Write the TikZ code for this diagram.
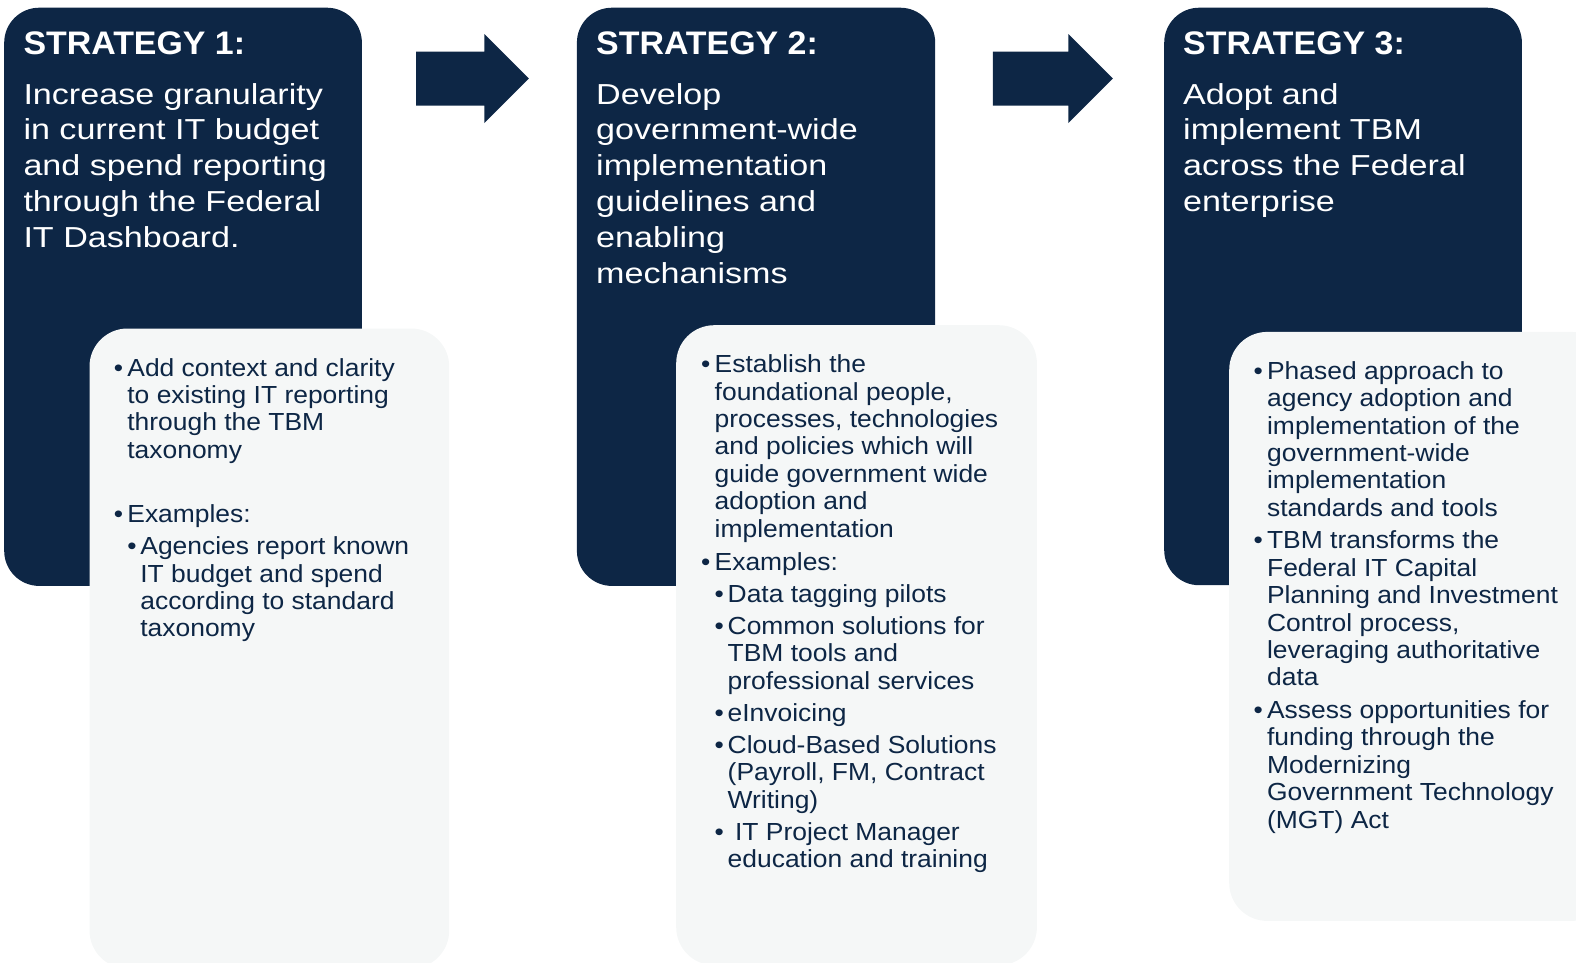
\documentclass[tikz,border=0pt]{standalone}
\usepackage{fontspec}
\setmainfont{Liberation Sans}
\newfontfamily\headfont{Liberation Sans}[FakeStretch=1.04]
\newfontfamily\bodyfont{Liberation Sans}[FakeStretch=1.18]
\newfontfamily\listfont{Liberation Sans}[FakeStretch=1.07]
\usetikzlibrary{shapes.arrows}

\definecolor{navy}{RGB}{13,38,69}
\definecolor{paper}{RGB}{245,247,247}

% bullets of the lists
\newcommand{\lvlone}{\makebox[13.5pt][l]{\textbullet}}
\newcommand{\lvlonec}{\hspace*{13.5pt}}
\newcommand{\lvltwo}{\hspace*{13.5pt}\makebox[13pt][l]{\textbullet}}
\newcommand{\lvltwoc}{\hspace*{26.5pt}}
\newcommand{\bodyset}{\bodyfont\fontsize{28.9}{35.8}\selectfont\raggedright}
\newcommand{\listset}{\listfont\fontsize{24.7}{27.4}\selectfont\raggedright}

\begin{document}
\begin{tikzpicture}[
        x=1pt, y=-1pt,
        darkbox/.style={rectangle, fill=navy, rounded corners=35pt, anchor=north west, inner sep=0pt},
        lightbox/.style={rectangle, fill=paper, rounded corners=38pt, anchor=north west, inner sep=0pt},
        heading/.style={anchor=base west, inner sep=0pt, text=white, font=\headfont\bfseries\fontsize{32.6}{36}\selectfont},
        bodytext/.style={anchor=base west, inner sep=0pt, text=white},
        listtext/.style={anchor=base west, inner sep=0pt, text=navy},
        flowarrow/.style={single arrow, fill=navy, inner xsep=0pt, inner ysep=26.8pt, text height=0pt, text depth=0pt,
            minimum height=112.7pt, single arrow head extend=17.5pt, single arrow tip angle=90, anchor=tail}
    ]
    \useasboundingbox (0,0) rectangle (1576,962);
    \clip (0,0) rectangle (1576,962);

    % Dark boxes
    \node[darkbox, minimum width=357.7pt, minimum height=578.2pt] (box1) at (4,7.5) {};
    \node[darkbox, minimum width=358.3pt, minimum height=578.2pt] (box2) at (576.7,7.5) {};
    \node[darkbox, minimum width=357.7pt, minimum height=577.5pt] (box3) at (1164,7.5) {};

    % Light boxes
    \node[lightbox, minimum width=359.7pt, minimum height=640pt] (list1) at (89.3,328.3) {};
    \node[lightbox, minimum width=360.7pt, minimum height=640pt] (list2) at (676,325) {};
    \node[lightbox, minimum width=380pt, minimum height=589pt] (list3) at (1229,331.7) {};

    % Arrows
    \node[flowarrow] (arrow1) at (416,78.5) {};
    \node[flowarrow, minimum height=120pt] (arrow2) at (992.7,78.5) {};

    % Strategy 1
    \node[heading] (head1) at (23.3,54) {STRATEGY 1:};
    \node[bodytext] (text1) at (23.3,104) {\parbox[t]{340pt}{\bodyset
        Increase granularity\\
        in current IT budget\\
        and spend reporting\\
        through the Federal\\
        IT Dashboard.}};
    \node[listtext] (items1) at (113.7,376) {\parbox[t]{330pt}{\listset
        \lvlone Add context and clarity\\
        \lvlonec to existing IT reporting\\
        \lvlonec through the TBM\\
        \lvlonec taxonomy\\[37pt]
        \lvlone Examples:\\[4.6pt]
        \lvltwo Agencies report known\\
        \lvltwoc IT budget and spend\\
        \lvltwoc according to standard\\
        \lvltwoc taxonomy}};

    % Strategy 2
    \node[heading] (head2) at (596,54) {STRATEGY 2:};
    \node[bodytext] (text2) at (596,104) {\parbox[t]{340pt}{\bodyset
        Develop\\
        government-wide\\
        implementation\\
        guidelines and\\
        enabling\\
        mechanisms}};
    \node[listtext] (items2) at (701,372.7) {\parbox[t]{330pt}{\listset
        \lvlone Establish the\\
        \lvlonec foundational people,\\
        \lvlonec processes, technologies\\
        \lvlonec and policies which will\\
        \lvlonec guide government wide\\
        \lvlonec adoption and\\
        \lvlonec implementation\\[5.6pt]
        \lvlone Examples:\\[4.8pt]
        \lvltwo Data tagging pilots\\[4.8pt]
        \lvltwo Common solutions for\\
        \lvltwoc TBM tools and\\
        \lvltwoc professional services\\[4.6pt]
        \lvltwo eInvoicing\\[4.6pt]
        \lvltwo Cloud-Based Solutions\\
        \lvltwoc (Payroll, FM, Contract\\
        \lvltwoc Writing)\\[4.6pt]
        \lvltwo\ IT Project Manager\\
        \lvltwoc education and training}};

    % Strategy 3
    \node[heading] (head3) at (1183,54) {STRATEGY 3:};
    \node[bodytext] (text3) at (1183,104) {\parbox[t]{340pt}{\bodyset
        Adopt and\\
        implement TBM\\
        across the Federal\\
        enterprise}};
    \node[listtext] (items3) at (1253.4,379.3) {\parbox[t]{330pt}{\listset
        \lvlone Phased approach to\\
        \lvlonec agency adoption and\\
        \lvlonec implementation of the\\
        \lvlonec government-wide\\
        \lvlonec implementation\\
        \lvlonec standards and tools\\[5.2pt]
        \lvlone TBM transforms the\\
        \lvlonec Federal IT Capital\\
        \lvlonec Planning and Investment\\
        \lvlonec Control process,\\
        \lvlonec leveraging authoritative\\
        \lvlonec data\\[5.2pt]
        \lvlone Assess opportunities for\\
        \lvlonec funding through the\\
        \lvlonec Modernizing\\
        \lvlonec Government Technology\\
        \lvlonec (MGT) Act}};
\end{tikzpicture}
\end{document}
